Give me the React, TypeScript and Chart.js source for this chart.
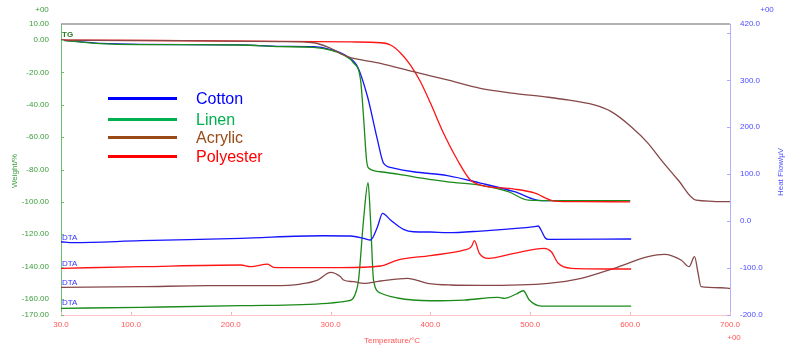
import React, { useEffect, useRef } from "react";
import { Chart, registerables } from "chart.js";

Chart.register(...registerables);

// ---------- axis ticks ----------
const tempTicks = [30, 100, 200, 300, 400, 500, 600, 700];
const weightTicks = [10, 0, -20, -40, -60, -80, -100, -120, -140, -160, -170];
const heatTicks = [420, 300, 200, 100, 0, -100, -200];
const heatMinorTicks = [400, 300, 200, 100, 0, -100, -200];

// ---------- legend ----------
const seriesNames = ["Cotton", "Linen", "Acrylic", "Polyester"];

// ---------- TG (weight %) ----------
const cottonTgT = [30, 50, 70, 110, 210, 250, 283, 300, 317, 327, 337, 347, 353, 363, 383, 417, 450, 484, 511, 550, 600];
const cottonTgW = [0, -1.0, -2.0, -2.6, -2.9, -3.8, -4.0, -5.8, -10.2, -16.4, -35.0, -61.8, -76.0, -79.1, -81.4, -83.8, -88.4, -93.7, -99.3, -99.3, -99.3];

const linenTgT = [30, 49, 69, 110, 210, 250, 283, 300, 313, 323, 330, 333, 336, 338, 350, 383, 417, 450, 478, 498, 550, 600];
const linenTgW = [0, -1.1, -2.1, -2.7, -3.0, -4.0, -4.4, -6.1, -9.2, -14.1, -24.6, -47.5, -74.1, -79.1, -81.4, -84.5, -87.6, -89.6, -93.7, -98.9, -99.3, -99.3];

const acrylicTgT = [30, 150, 250, 283, 300, 317, 350, 383, 417, 450, 484, 518, 531, 564, 581, 601, 618, 631, 648, 666, 700];
const acrylicTgW = [0, -0.3, -0.9, -1.6, -5.0, -10.2, -14.3, -19.5, -24.6, -29.8, -32.9, -35.3, -36.4, -40.1, -44.2, -53.5, -63.8, -74.1, -86.5, -98.9, -99.9];

const polyesterTgT = [30, 120, 250, 320, 350, 360, 370, 380, 390, 400, 413, 427, 440, 450, 484, 504, 524, 551, 600];
const polyesterTgW = [0, -0.2, -0.7, -1.1, -1.6, -3.0, -7.9, -15.4, -25.7, -38.9, -57.4, -74.1, -86.5, -89.6, -92.1, -94.5, -99.5, -99.9, -100];

// ---------- DTA (heat flow µV) ----------
const cottonDtaT = [30, 42, 110, 210, 293, 320, 333, 340, 347, 352, 360, 373, 383, 400, 417, 450, 504, 508, 511, 515, 518, 601];
const cottonDtaH = [-43.9, -46, -41.7, -36.6, -31.1, -31.7, -36.6, -40.2, -11.9, 16.7, 2.4, -17.4, -22.6, -23.2, -24.7, -21.1, -11.9, -10.4, -20, -36, -38.8, -38.1];

const linenDtaT = [30, 110, 210, 297, 317, 322, 326, 328, 333, 337.5, 340, 343, 350, 367, 400, 434, 468, 474, 486, 493, 499, 511, 601];
const linenDtaH = [-185.8, -183.6, -180.2, -175.1, -170, -166, -146.8, -125.5, 2.4, 81.8, 2.4, -125.5, -153.2, -163.8, -169.6, -168.1, -162.3, -164.5, -155.3, -148.3, -168.1, -180.9, -180.9];

const acrylicDtaT = [30, 110, 177, 243, 270, 287, 300, 310, 313, 323, 333, 350, 377, 397, 420, 450, 518, 551, 584, 618, 634, 651, 659, 664.5, 668, 671, 691, 700];
const acrylicDtaH = [-141, -139.7, -137.6, -137.6, -134, -125.5, -109.1, -118.4, -125.5, -129.1, -132.5, -127.6, -121.8, -132.5, -136.1, -136.8, -132.5, -121.8, -100.5, -75.8, -70.7, -82.9, -97.1, -75.8, -110.5, -139.7, -141.9, -143.2];

const polyesterDtaT = [30, 110, 210, 220, 237, 243, 260, 310, 350, 367, 400, 434, 441, 444, 449, 458, 484, 514, 521, 528, 541, 601];
const polyesterDtaH = [-100.5, -97.1, -93.5, -97.1, -91.4, -98.4, -99.2, -99.2, -95.6, -82.9, -73.3, -61.5, -54.5, -41.7, -68.6, -79.2, -68.6, -57.9, -65.2, -89.9, -100.5, -102];

// ---------- styles ----------
const curveColors = ["#1414ff", "#1a8a1a", "#864848", "#ff1414"];
const legendLineColors = ["#0000ff", "#00b050", "#9a4a14", "#ff0000"];
const legendTextColors = ["#0000ff", "#00b050", "#9a4a14", "#ff0000"];
const FONT = "'Liberation Sans', Arial, sans-serif";

const pts = (xs: number[], ys: number[]) => xs.map((x, i) => ({ x, y: ys[i] }));

const mk = (label: string, xs: number[], ys: number[], color: string, axis: string) => ({
  label,
  data: pts(xs, ys),
  borderColor: color,
  backgroundColor: color,
  borderWidth: 1.3,
  pointRadius: 0,
  fill: false,
  cubicInterpolationMode: "monotone" as const,
  yAxisID: axis,
});

const decorPlugin = {
  id: "decor",
  afterDraw(chart: any) {
    const ctx = chart.ctx as CanvasRenderingContext2D;
    const a = chart.chartArea;
    const sx = chart.scales.x;
    const sw = chart.scales.yW;
    const sh = chart.scales.yH;
    ctx.save();
    const line = (x1: number, y1: number, x2: number, y2: number) => {
      ctx.beginPath();
      ctx.moveTo(x1, y1);
      ctx.lineTo(x2, y2);
      ctx.stroke();
    };
    // top frame line
    ctx.strokeStyle = "#9a9a9a";
    ctx.lineWidth = 1.5;
    line(a.left, a.top, a.right, a.top);

    // inward ticks
    ctx.lineWidth = 1;
    ctx.strokeStyle = "#6cbf6c";
    weightTicks.slice(1).forEach((v) => {
      const y = Math.round(sw.getPixelForValue(v)) + 0.5;
      line(a.left, y, a.left + 3, y);
    });
    ctx.strokeStyle = "#a8a8ff";
    heatMinorTicks.forEach((v) => {
      const y = Math.round(sh.getPixelForValue(v)) + 0.5;
      line(a.right - 3, y, a.right, y);
    });
    ctx.strokeStyle = "#ffb0b0";
    tempTicks.forEach((v) => {
      const x = Math.round(sx.getPixelForValue(v)) + 0.5;
      line(x, a.bottom - 3, x, a.bottom);
    });

    // texts
    ctx.font = `8px ${FONT}`;
    ctx.textBaseline = "middle";
    ctx.textAlign = "center";
    ctx.fillStyle = "#3c9c3c";
    ctx.fillText("+00", 42, 10);
    ctx.fillStyle = "#4b4bff";
    ctx.fillText("+00", 767, 10);
    ctx.fillStyle = "#ff5555";
    ctx.fillText("+00", 734, 338);
    ctx.fillText("Temperature/°C", 392, 341);

    ctx.save();
    ctx.translate(15, 171);
    ctx.rotate(-Math.PI / 2);
    ctx.fillStyle = "#3c9c3c";
    ctx.fillText("Weight/%", 0, 0);
    ctx.restore();

    ctx.save();
    ctx.translate(781, 172);
    ctx.rotate(-Math.PI / 2);
    ctx.fillStyle = "#4b4bff";
    ctx.fillText("Heat Flow/μV", 0, 0);
    ctx.restore();

    ctx.textAlign = "left";
    ctx.font = `bold 8px ${FONT}`;
    ctx.fillStyle = "#2a7a2a";
    ctx.fillText("TG", 62, 35);
    ctx.font = `8px ${FONT}`;
    ctx.fillStyle = "#3333ff";
    [238, 264, 283, 303].forEach((y) => ctx.fillText("DTA", 62, y));

    // legend
    const legendY = [98.5, 119.5, 137.5, 156.5];
    ctx.lineWidth = 3;
    seriesNames.forEach((name, i) => {
      ctx.strokeStyle = legendLineColors[i];
      line(108, legendY[i], 177, legendY[i]);
      ctx.font = `16px ${FONT}`;
      ctx.fillStyle = legendTextColors[i];
      ctx.fillText(name, 196, legendY[i] + 1);
    });
    ctx.restore();
  },
};

export default function App() {
  const ref = useRef<HTMLCanvasElement | null>(null);
  useEffect(() => {
    if (!ref.current) return;
    const chart = new Chart(ref.current, {
      type: "line",
      data: {
        datasets: [
          mk("Cotton DTA", cottonDtaT, cottonDtaH, curveColors[0], "yH"),
          mk("Polyester DTA", polyesterDtaT, polyesterDtaH, curveColors[3], "yH"),
          mk("Acrylic DTA", acrylicDtaT, acrylicDtaH, curveColors[2], "yH"),
          mk("Linen DTA", linenDtaT, linenDtaH, curveColors[1], "yH"),
          mk("Acrylic TG", acrylicTgT, acrylicTgW, curveColors[2], "yW"),
          mk("Polyester TG", polyesterTgT, polyesterTgW, curveColors[3], "yW"),
          mk("Linen TG", linenTgT, linenTgW, curveColors[1], "yW"),
          mk("Cotton TG", cottonTgT, cottonTgW, curveColors[0], "yW"),
        ],
      },
      options: {
        animation: false,
        responsive: false,
        maintainAspectRatio: false,
        layout: { padding: { top: 24, left: 0, right: 0, bottom: 0 } },
        plugins: { legend: { display: false }, tooltip: { enabled: false } },
        scales: {
          x: {
            type: "linear",
            position: "bottom",
            min: 30,
            max: 700,
            afterFit: (s: any) => { s.height = 36; },
            afterBuildTicks: (s: any) => { s.ticks = tempTicks.map((v) => ({ value: v })); },
            ticks: {
              autoSkip: false,
              maxRotation: 0,
              padding: 5,
              color: "#ff5555",
              font: { size: 8, family: FONT },
              callback: (v: any) => Number(v).toFixed(1),
            },
            grid: { display: false, drawTicks: false },
            border: { display: true, color: "#ffc4c4", width: 1 },
          },
          yW: {
            type: "linear",
            position: "left",
            min: -170,
            max: 10,
            afterFit: (s: any) => { s.width = 61; },
            afterBuildTicks: (s: any) => { s.ticks = weightTicks.map((v) => ({ value: v })); },
            ticks: {
              autoSkip: false,
              padding: 12,
              color: "#3c9c3c",
              font: { size: 8, family: FONT },
              callback: (v: any) => Number(v).toFixed(2),
            },
            grid: { display: false, drawTicks: false },
            border: { display: true, color: "#6cbf6c", width: 1 },
          },
          yH: {
            type: "linear",
            position: "right",
            min: -200,
            max: 420,
            afterFit: (s: any) => { s.width = 66; },
            afterBuildTicks: (s: any) => { s.ticks = heatTicks.map((v) => ({ value: v })); },
            ticks: {
              autoSkip: false,
              padding: 10,
              color: "#4b4bff",
              font: { size: 8, family: FONT },
              callback: (v: any) => Number(v).toFixed(1),
            },
            grid: { display: false, drawTicks: false },
            border: { display: true, color: "#b0b0ff", width: 1 },
          },
        },
      },
      plugins: [decorPlugin],
    } as any);
    return () => chart.destroy();
  }, []);

  return (
    <div style={{ position: "absolute", left: 0, top: 0, width: 796, height: 351, background: "#fff" }}>
      <canvas ref={ref} width={796} height={351} style={{ display: "block" }} />
    </div>
  );
}
